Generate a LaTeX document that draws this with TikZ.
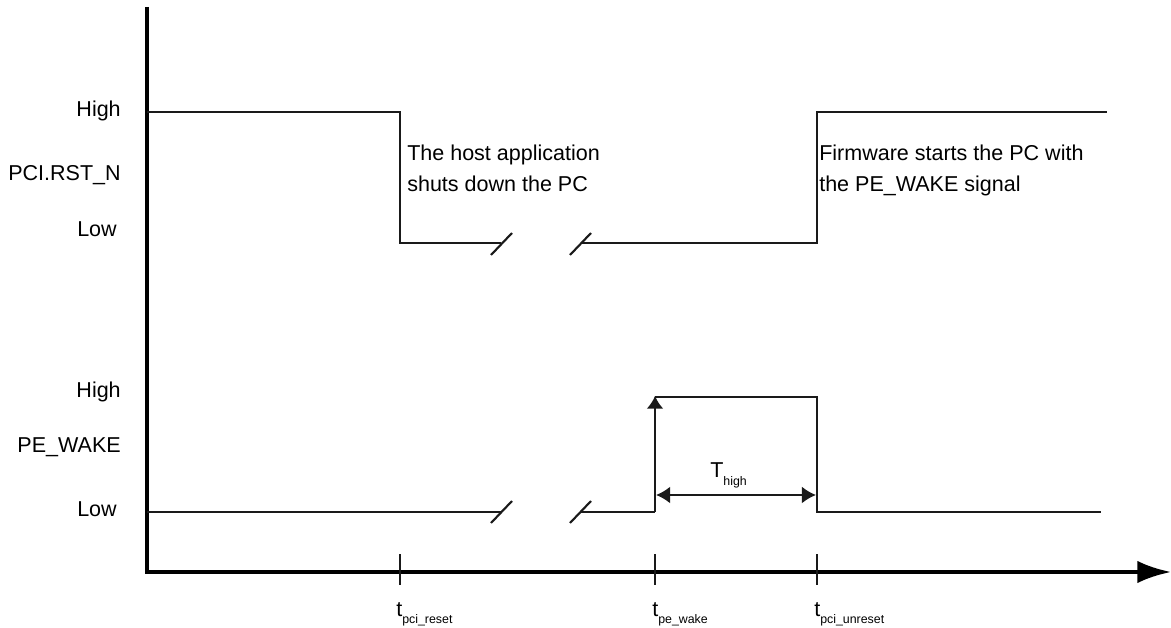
\documentclass[tikz,border=0pt]{standalone}
\usepackage{fontspec}
\setmainfont{Liberation Sans}
\usetikzlibrary{arrows.meta}
\definecolor{SigInk}{HTML}{1A1A1A}
\tikzset{
  sigline/.style={SigInk, line width=1.5pt},
  axisline/.style={black, line width=2.9pt},
  tickline/.style={SigInk, line width=1.4pt},
  lvl/.style={font=\fontsize{15.3}{22}\selectfont, inner sep=0pt, anchor=base east},
  note/.style={font=\fontsize{15.3}{22.6}\selectfont, inner sep=0pt, anchor=base west, align=left},
}
\newcommand{\tlbl}[2]{#1\raisebox{-5pt}{\fontsize{8.8}{10}\selectfont #2}}

\begin{document}
\begin{tikzpicture}[x=0.025cm, y=-0.025cm]
      \useasboundingbox (0,0) rectangle (1171,628);
      %% Time axis and level axis
      \draw[axisline, line join=miter, -{Latex[length=24pt, width=16pt]}]
            (147,7) -- (147,572) -- (1171,572);
      %% Time marks
      \coordinate (treset) at (400,572);
      \coordinate (twake) at (655,572);
      \coordinate (tunreset) at (817,572);
      \foreach \t in {treset, twake, tunreset}
        \draw[tickline] ([yshift=-13*0.025cm]\t) -- ([yshift=18*0.025cm]\t);
      \node[note, anchor=base west] (lreset) at (396,616) {\tlbl{t}{pci\_reset}};
      \node[note, anchor=base west] (lwake) at (652,616) {\tlbl{t}{pe\_wake}};
      \node[note, anchor=base west] (lunreset) at (814,616) {\tlbl{t}{pci\_unreset}};

      %% PCI.RST_N levels
      \node[lvl] (rsthigh) at (121,117) {High};
      \node[lvl] (rstname) at (121,181) {PCI.RST\_N};
      \node[lvl] (rstlow) at (117,237) {Low};
      %% PCI.RST_N signal
      \draw[sigline] (147,112) -- (400,112) -- (400,243) -- (501,243);
      \draw[sigline] (491,255) -- (512,233);
      \draw[sigline] (570,255) -- (591,233);
      \draw[sigline] (581,243) -- (817,243) -- (817,112) -- (1107,112);
      %% base of a two-line note is its last line
      \node[note] (shutdown) at (407,192) {The host application\\shuts down the PC};
      \node[note] (startup) at (819,192) {Firmware starts the PC with\\the PE\_WAKE signal};

      %% PE_WAKE levels
      \node[lvl] (wakehigh) at (121,398) {High};
      \node[lvl] (wakename) at (121,453) {PE\_WAKE};
      \node[lvl] (wakelow) at (117,517) {Low};
      %% PE_WAKE signal
      \draw[sigline] (147,512) -- (501,512);
      \draw[sigline] (491,523) -- (512,501);
      \draw[sigline] (570,523) -- (591,501);
      \draw[sigline] (581,512) -- (655,512);
      \draw[sigline, -{Latex[length=9pt, width=12pt]}] (655,512) -- (655,396);
      \draw[sigline] (655,397) -- (817,397) -- (817,512) -- (1101,512);
      %% Pulse width
      \draw[sigline, {Latex[length=10pt, width=12pt]}-{Latex[length=10pt, width=12pt]}]
            (656,495) -- (816,495);
      \node[note] (thigh) at (710,478) {\tlbl{T}{high}};
    \end{tikzpicture}
\end{document}
